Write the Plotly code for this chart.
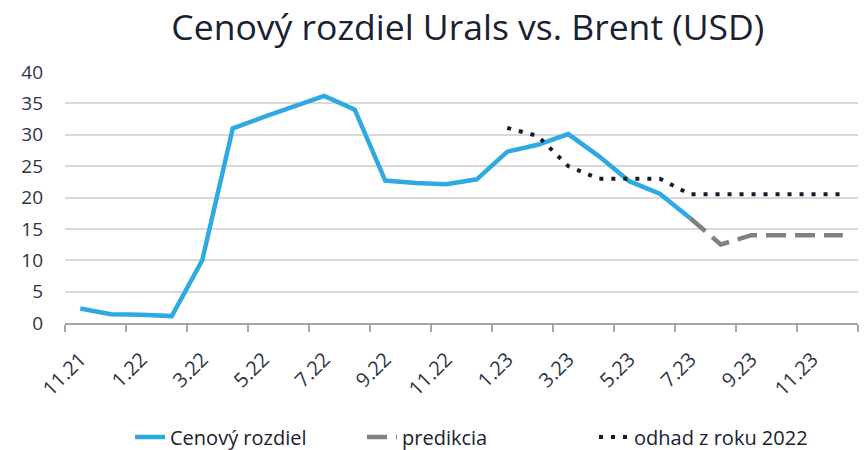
import plotly.graph_objects as go

months = ["11.21", "12.21", "1.22", "2.22", "3.22", "4.22", "5.22", "6.22", "7.22", "8.22",
          "9.22", "10.22", "11.22", "12.22", "1.23", "2.23", "3.23", "4.23", "5.23", "6.23",
          "7.23", "8.23", "9.23", "10.23", "11.23", "12.23"]

cenovy_rozdiel = [2.3, 1.4, 1.3, 1.1, 10.0, 31.0, 32.8, 34.5, 36.2, 34.0,
                  22.7, 22.3, 22.1, 22.9, 27.3, 28.4, 30.1, 26.6, 22.6, 20.6,
                  16.7, None, None, None, None, None]

predikcia = [None] * 20 + [16.7, 12.5, 14.0, 14.0, 14.0, 14.0]

odhad_2022 = [None] * 14 + [31.1, 29.8, 25.0, 23.0, 23.0, 23.0, 20.5, 20.5, 20.5, 20.5, 20.5, 20.5]

idx = list(range(len(months)))
tick_idx = idx[::2]
tick_labels = months[::2]

text_color = "#1A2130"
tick_color = "#2E3442"
font_family = "'Open Sans', sans-serif"

fig = go.Figure()
fig.add_trace(go.Scatter(x=idx, y=cenovy_rozdiel, mode="lines", name="Cenový rozdiel",
                         line=dict(color="#2EA9E1", width=4.5), connectgaps=False))
fig.add_trace(go.Scatter(x=idx, y=predikcia, mode="lines", name="predikcia",
                         line=dict(color="#808080", width=4.5, dash="20px,9px")))
fig.add_trace(go.Scatter(x=idx, y=odhad_2022, mode="lines", name="odhad z roku 2022",
                         line=dict(color="#141B2D", width=4, dash="4px,8px")))

# The page body has an 8px margin, so the figure is 8px smaller on each axis.
fig.update_layout(
    width=859, height=442,
    margin=dict(l=57, r=9, t=64, b=127, autoexpand=False),
    paper_bgcolor="white", plot_bgcolor="white",
    font=dict(family=font_family, color=text_color, size=18),
    title=dict(text="Cenový rozdiel Urals vs. Brent (USD)", x=0.508, xanchor="center",
               xref="paper", y=0.955, yanchor="middle",
               font=dict(size=35.5, color=text_color, family=font_family)),
    showlegend=True,
    legend=dict(orientation="h", x=0.082, xanchor="left", y=-0.454, yanchor="middle",
                xref="paper", font=dict(size=20, color=text_color),
                traceorder="normal", entrywidth=187, entrywidthmode="pixels"),
)

fig.update_xaxes(
    range=[-0.5, 25.5], automargin=False,
    tickmode="array", tickvals=tick_idx, ticktext=tick_labels,
    ticks="", tickangle=-45, ticklabelstandoff=15,
    tickfont=dict(size=20, color=tick_color),
    minor=dict(tickmode="linear", tick0=-0.5, dtick=2, ticks="outside", ticklen=7,
               tickcolor="#A6A6A6", tickwidth=1.5, showgrid=False),
    showline=True, linecolor="#A6A6A6", linewidth=1.5,
    showgrid=False, zeroline=False,
)
fig.update_yaxes(
    range=[0, 40], dtick=5, tick0=0, automargin=False,
    showgrid=True, gridcolor="#D9D9D9", gridwidth=1.5,
    zeroline=False, showline=False, ticks="", ticklabelstandoff=21,
    tickfont=dict(size=19, color=tick_color),
)

fig.write_html("out.html")
